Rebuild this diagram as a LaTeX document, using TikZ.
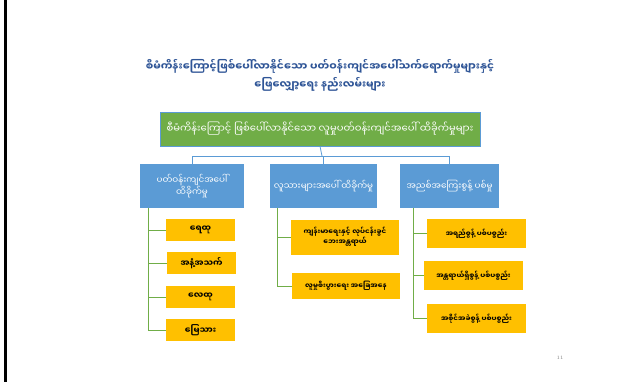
\documentclass[tikz,border=0pt]{standalone}
\usepackage{fontspec}
\usepackage{xcolor}
\usepackage{tikz}
\usetikzlibrary{calc,positioning}
\newfontfamily\mmfont[Script=Myanmar]{Noto Sans Myanmar UI}
\definecolor{hdrgreen}{HTML}{70AD47}
\definecolor{boxblue}{HTML}{5B9BD5}
\definecolor{leafgold}{HTML}{FFC000}
\definecolor{titleblue}{HTML}{2F5597}

\begin{document}
\begin{tikzpicture}[x=1pt,y=-1pt,
  hdr/.style={fill=hdrgreen,draw=boxblue,line width=0.6pt,text=white,align=center,
    minimum width=320pt,minimum height=34pt,font=\mmfont\fontsize{10}{12}\selectfont},
  cat/.style={fill=boxblue,text=white,align=center,inner sep=2pt,
    minimum height=44pt,font=\mmfont\fontsize{8.8}{11}\selectfont},
  leaf/.style={fill=leafgold,text=black,align=center,inner sep=1pt,
    font=\mmfont\bfseries\fontsize{7}{9}\selectfont},
  bline/.style={draw=boxblue,line width=0.8pt},
  gline/.style={draw=hdrgreen,line width=0.8pt}]
  \useasboundingbox[fill=white] (0,0) rectangle (617,382);
  \fill (4,0) rectangle (6.5,382);

  \node[text=titleblue,align=center,font=\mmfont\bfseries\fontsize{10.5}{18}\selectfont] (title) at (320,75)
    {စီမံကိန်းကြောင့်ဖြစ်ပေါ်လာနိုင်သော ပတ်ဝန်းကျင်အပေါ်သက်ရောက်မှုများနှင့်\\ဖြေလျှော့ရေး နည်းလမ်းများ};

  \node[hdr] (top) at (320,129) {စီမံကိန်းကြောင့် ဖြစ်ပေါ်လာနိုင်သော လူမှုပတ်ဝန်းကျင်အပေါ် ထိခိုက်မှုများ};

  \node[cat,minimum width=104pt] (envc) at (192,186) {ပတ်ဝန်းကျင်အပေါ်\\ထိခိုက်မှု};
  \node[cat,minimum width=107pt] (humc) at (323.5,186) {လူသားများအပေါ် ထိခိုက်မှု};
  \node[cat,minimum width=99pt] (wstc) at (449.5,186) {အညစ်အကြေးစွန့် ပစ်မှု};

  \coordinate (hub) at (322,156);
  \draw[bline] (top.south) -- (hub);
  \draw[bline] (hub) -| (envc.north);
  \draw[bline] (hub) -| (humc.north);
  \draw[bline] (hub) -| (wstc.north);

  % first column
  \node[leaf,minimum width=69pt,minimum height=22pt,font=\mmfont\bfseries\fontsize{8.5}{10}\selectfont] (water) at (200.5,230) {ရေထု};
  \node[leaf,minimum width=69pt,minimum height=22pt,font=\mmfont\bfseries\fontsize{8.5}{10}\selectfont] (smell) at (201.5,263) {အနံ့အသက်};
  \node[leaf,minimum width=69pt,minimum height=22pt,font=\mmfont\bfseries\fontsize{8.5}{10}\selectfont] (air) at (200.5,297) {လေထု};
  \node[leaf,minimum width=69pt,minimum height=22pt,font=\mmfont\bfseries\fontsize{8.5}{10}\selectfont] (soil) at (200.5,330) {မြေသား};
  \draw[gline] ([xshift=-44pt]envc.south) |- (water.west);
  \draw[gline] ([xshift=-44pt]envc.south) |- (smell.west);
  \draw[gline] ([xshift=-44pt]envc.south) |- (air.west);
  \draw[gline] ([xshift=-44pt]envc.south) |- (soil.west);

  % second column
  \node[leaf,minimum width=108pt,minimum height=35pt] (health) at (345,237) {ကျန်းမာရေးနှင့် လုပ်ငန်းခွင်\\ဘေးအန္တရာယ်};
  \node[leaf,minimum width=108pt,minimum height=26pt] (econ) at (346,286) {လူမှုစီးပွားရေး အခြေအနေ};
  \draw[gline] ([xshift=-46.5pt]humc.south) |- (health.west);
  \draw[gline] ([xshift=-46.5pt]humc.south) |- (econ.west);

  % third column
  \node[leaf,minimum width=99pt,minimum height=29pt] (liquid) at (476.5,233.5) {အရည်စွန့် ပစ်ပစ္စည်း};
  \node[leaf,minimum width=99pt,minimum height=29pt] (hazard) at (473.5,275.5) {အန္တရာယ်ရှိစွန့် ပစ်ပစ္စည်း};
  \node[leaf,minimum width=99pt,minimum height=29pt] (solid) at (476.5,318.5) {အစိုင်အခဲစွန့် ပစ်ပစ္စည်း};
  \draw[gline] ([xshift=-36.5pt]wstc.south) |- (liquid.west);
  \draw[gline] ([xshift=-36.5pt]wstc.south) |- (hazard.west);
  \draw[gline] ([xshift=-36.5pt]wstc.south) |- (solid.west);

  \node[text=gray,font=\fontsize{5}{6}\selectfont] (pgno) at (560,358) {11};
\end{tikzpicture}
\end{document}
